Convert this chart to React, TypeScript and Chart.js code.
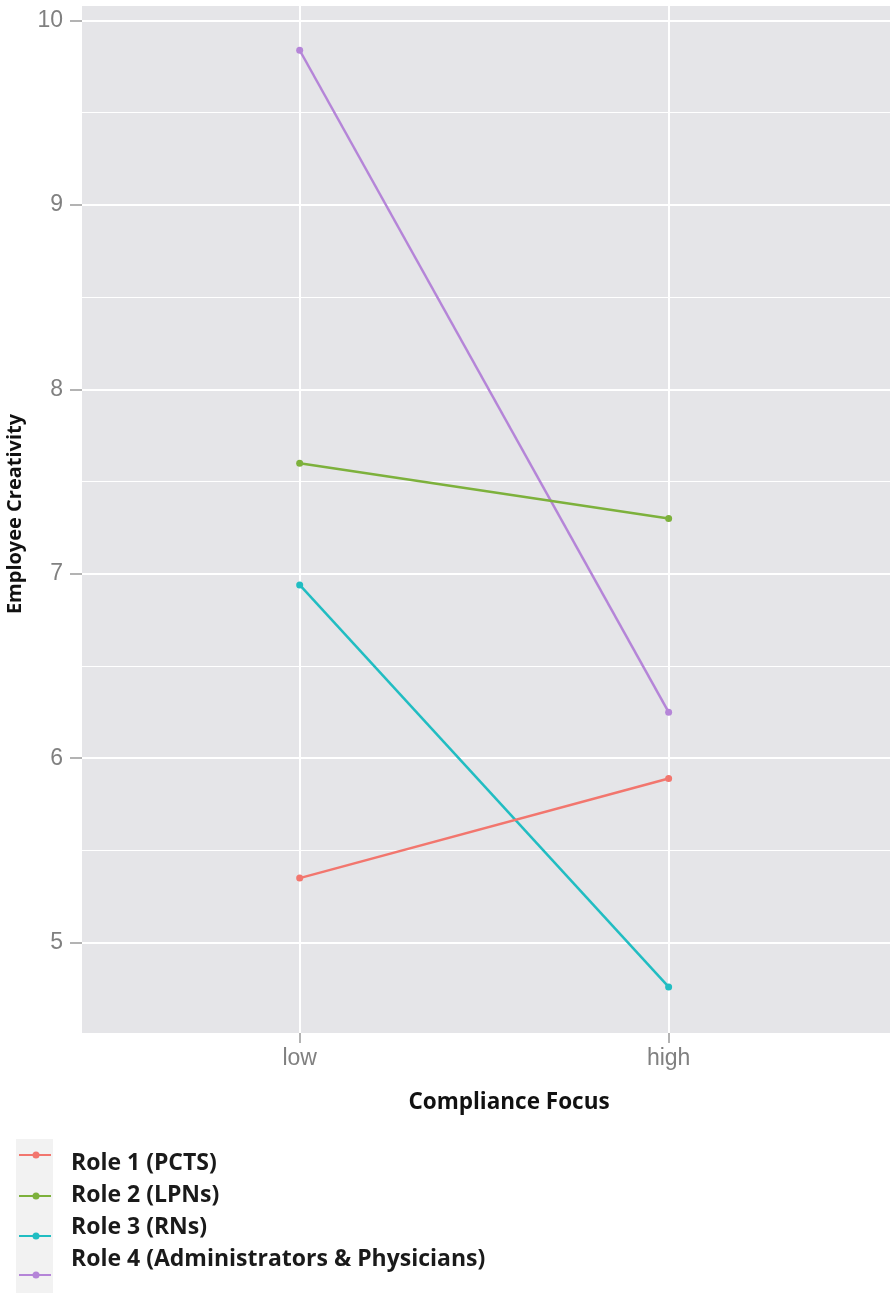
import React, { useEffect, useRef } from "react";
import { Chart, registerables } from "chart.js";

Chart.register(...registerables);

const categories = ["low", "high"];
const seriesLabels = [
  "Role 1 (PCTS)",
  "Role 2 (LPNs)",
  "Role 3 (RNs)",
  "Role 4 (Administrators & Physicians)",
];
const role1 = [5.35, 5.89];
const role2 = [7.6, 7.3];
const role3 = [6.94, 4.76];
const role4 = [9.84, 6.25];
const seriesValues = [role1, role2, role3, role4];
const seriesColors = ["#F2766E", "#7DB13C", "#21BDC2", "#B585D8"];
const yTickValues = [5, 5.5, 6, 6.5, 7, 7.5, 8, 8.5, 9, 9.5, 10];
const xTitle = "Compliance Focus";
const yTitle = "Employee Creativity";

const W = 894;
const H = 1304;
const boldFont = "'Open Sans', Lato, sans-serif";

export default function App() {
  const ref = useRef<HTMLCanvasElement | null>(null);

  useEffect(() => {
    document.body.style.margin = "0";
    const canvas = ref.current;
    if (!canvas) return;

    const decor = {
      id: "decor",
      beforeDraw(chart: any) {
        const { ctx, chartArea } = chart;
        ctx.save();
        ctx.fillStyle = "#ffffff";
        ctx.fillRect(0, 0, chart.width, chart.height);
        ctx.fillStyle = "#E5E5E8";
        ctx.fillRect(
          chartArea.left,
          chartArea.top,
          chartArea.right - chartArea.left,
          chartArea.bottom - chartArea.top
        );
        ctx.restore();
      },
      afterDraw(chart: any) {
        const { ctx } = chart;
        ctx.save();
        ctx.fillStyle = "#111111";
        ctx.textAlign = "center";
        ctx.textBaseline = "middle";
        ctx.font = `bold 22.5px ${boldFont}`;
        ctx.fillText(xTitle, 509, 1103);
        ctx.translate(15, 514);
        ctx.rotate(-Math.PI / 2);
        ctx.font = `bold 20px ${boldFont}`;
        ctx.fillText(yTitle, 0, 0);
        ctx.restore();

        // legend
        ctx.save();
        ctx.fillStyle = "#F2F2F2";
        ctx.fillRect(16, 1139, 37, 154);
        const keyYs = [1155, 1196, 1236, 1275];
        const textYs = [1163, 1195, 1227, 1259];
        seriesLabels.forEach((lab, i) => {
          ctx.strokeStyle = seriesColors[i];
          ctx.lineWidth = 2;
          ctx.beginPath();
          ctx.moveTo(19, keyYs[i]);
          ctx.lineTo(51, keyYs[i]);
          ctx.stroke();
          ctx.fillStyle = seriesColors[i];
          ctx.beginPath();
          ctx.arc(36, keyYs[i], 3.5, 0, Math.PI * 2);
          ctx.fill();
          ctx.fillStyle = "#1a1a1a";
          ctx.font = `bold 23px ${boldFont}`;
          ctx.textAlign = "left";
          ctx.textBaseline = "middle";
          ctx.fillText(lab, 71, textYs[i]);
        });
        ctx.restore();
      },
    };

    const chart = new Chart(canvas, {
      type: "line",
      data: {
        datasets: seriesValues.map((vals, i) => ({
          label: seriesLabels[i],
          data: vals.map((v, j) => ({ x: j, y: v })),
          borderColor: seriesColors[i],
          backgroundColor: seriesColors[i],
          borderWidth: 2.5,
          pointRadius: 3.5,
          pointBorderWidth: 0,
          pointHoverRadius: 3.5,
          fill: false,
          tension: 0,
        })),
      },
      options: {
        responsive: false,
        animation: false,
        devicePixelRatio: 1,
        layout: { padding: { left: 0, top: 6, right: 4, bottom: 231 } },
        plugins: {
          legend: { display: false },
          tooltip: { enabled: false },
        },
        scales: {
          x: {
            type: "linear",
            min: -0.59,
            max: 1.6,
            afterBuildTicks: (scale: any) => {
              scale.ticks = categories.map((_, i) => ({ value: i }));
            },
            afterFit: (scale: any) => {
              scale.height = 40;
              scale.paddingLeft = 0;
              scale.paddingRight = 0;
            },
            ticks: {
              callback: (v: any) => categories[v] ?? "",
              color: "#808080",
              font: { family: "'Liberation Sans', Arial, sans-serif", size: 23 },
              padding: 2,
              maxRotation: 0,
              autoSkip: false,
            },
            grid: {
              color: "#ffffff",
              lineWidth: 2,
              tickLength: 10,
              tickColor: "#9a9a9a",
              tickWidth: 1.5,
            },
            border: { display: false },
          },
          y: {
            type: "linear",
            min: 4.51,
            max: 10.08,
            afterBuildTicks: (scale: any) => {
              scale.ticks = yTickValues.map((v) => ({ value: v }));
            },
            afterFit: (scale: any) => {
              scale.width = 82;
              scale.paddingTop = 0;
              scale.paddingBottom = 0;
            },
            ticks: {
              callback: (v: any) => (Number.isInteger(v) ? String(v) : ""),
              color: "#808080",
              font: { family: "'Liberation Sans', Arial, sans-serif", size: 23 },
              padding: 7,
              autoSkip: false,
            },
            grid: {
              color: "#ffffff",
              lineWidth: (c: any) => (Number.isInteger(c.tick?.value) ? 2 : 1),
              tickLength: 12,
              tickColor: (c: any) =>
                Number.isInteger(c.tick?.value) ? "#9a9a9a" : "rgba(0,0,0,0)",
              tickWidth: 1.5,
            },
            border: { display: false },
          },
        },
      },
      plugins: [decor],
    } as any);

    return () => chart.destroy();
  }, []);

  return (
    <canvas
      ref={ref}
      width={W}
      height={H}
      style={{ display: "block", width: W, height: H }}
    />
  );
}
